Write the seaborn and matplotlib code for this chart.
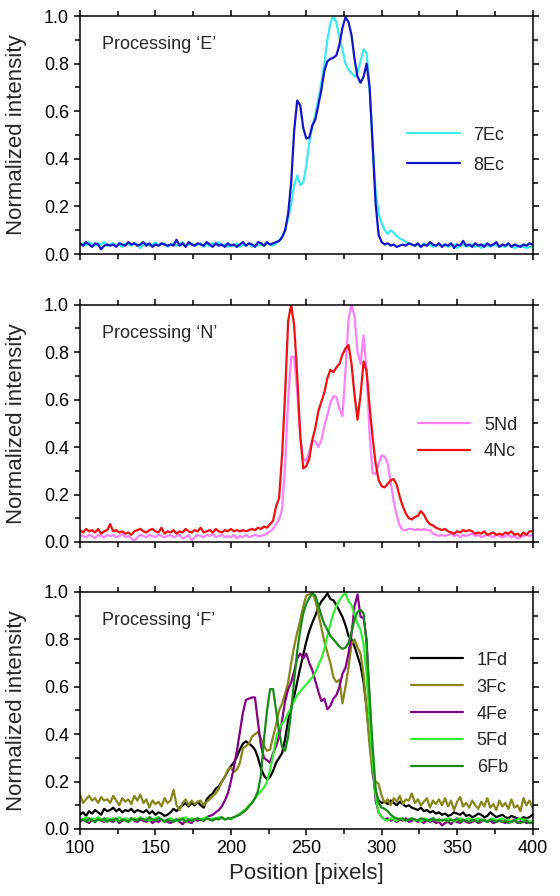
import numpy as np
import pandas as pd
import matplotlib
matplotlib.use("Agg")
import matplotlib.pyplot as plt
from matplotlib.ticker import MultipleLocator
import seaborn as sns

# positions (pixels), one sample every 2 px
position = np.arange(100, 401, 2)

# --- Processing 'E' ---
e_7Ec = [
    0.04, 0.045, 0.035, 0.05, 0.04, 0.035, 0.045, 0.04, 0.05, 0.035,
    0.04, 0.045, 0.035, 0.04, 0.03, 0.045, 0.04, 0.035, 0.045, 0.04,
    0.025, 0.04, 0.045, 0.035, 0.04, 0.05, 0.035, 0.04, 0.045, 0.03,
    0.04, 0.045, 0.035, 0.04, 0.05, 0.035, 0.04, 0.045, 0.035, 0.04,
    0.045, 0.03, 0.04, 0.035, 0.045, 0.04, 0.05, 0.035, 0.04, 0.03,
    0.04, 0.035, 0.045, 0.03, 0.04, 0.035, 0.045, 0.03, 0.04, 0.035,
    0.04, 0.035, 0.045, 0.04, 0.035, 0.045, 0.055, 0.075, 0.1, 0.15,
    0.21, 0.29, 0.33, 0.29, 0.30, 0.37, 0.47, 0.535, 0.585, 0.65,
    0.72, 0.80, 0.90, 0.97, 1.0, 0.97, 0.91, 0.86, 0.80, 0.775,
    0.76, 0.745, 0.765, 0.81, 0.86, 0.845, 0.70, 0.46, 0.26, 0.17,
    0.13, 0.1, 0.085, 0.1, 0.09, 0.075, 0.065, 0.06, 0.05, 0.045,
    0.04, 0.035, 0.04, 0.03, 0.045, 0.035, 0.04, 0.03, 0.035, 0.04,
    0.035, 0.04, 0.03, 0.035, 0.04, 0.025, 0.035, 0.04, 0.03, 0.035,
    0.04, 0.03, 0.035, 0.025, 0.04, 0.035, 0.03, 0.04, 0.035, 0.03,
    0.035, 0.03, 0.04, 0.035, 0.025, 0.03, 0.035, 0.03, 0.025, 0.03,
    0.03,
]
e_8Ec = [
    0.045, 0.035, 0.05, 0.04, 0.03, 0.045, 0.04, 0.02, 0.035, 0.04,
    0.035, 0.04, 0.03, 0.045, 0.04, 0.035, 0.05, 0.04, 0.045, 0.035,
    0.04, 0.05, 0.035, 0.045, 0.03, 0.04, 0.035, 0.045, 0.04, 0.035,
    0.04, 0.035, 0.06, 0.035, 0.045, 0.03, 0.05, 0.04, 0.035, 0.045,
    0.04, 0.035, 0.05, 0.04, 0.03, 0.045, 0.035, 0.04, 0.03, 0.045,
    0.035, 0.04, 0.03, 0.04, 0.05, 0.035, 0.045, 0.04, 0.03, 0.05,
    0.045, 0.035, 0.05, 0.04, 0.045, 0.05, 0.055, 0.07, 0.1, 0.17,
    0.30, 0.52, 0.645, 0.625, 0.53, 0.485, 0.49, 0.54, 0.565, 0.625,
    0.69, 0.77, 0.81, 0.82, 0.825, 0.835, 0.88, 0.95, 0.995, 0.975,
    0.92, 0.82, 0.745, 0.72, 0.745, 0.80, 0.70, 0.46, 0.21, 0.08,
    0.05, 0.04, 0.045, 0.035, 0.04, 0.03, 0.035, 0.04, 0.035, 0.045,
    0.04, 0.035, 0.045, 0.03, 0.04, 0.035, 0.05, 0.04, 0.035, 0.045,
    0.03, 0.04, 0.035, 0.045, 0.025, 0.04, 0.035, 0.055, 0.035, 0.04,
    0.03, 0.045, 0.035, 0.04, 0.03, 0.045, 0.035, 0.04, 0.05, 0.03,
    0.04, 0.035, 0.045, 0.03, 0.04, 0.035, 0.03, 0.04, 0.035, 0.045,
    0.04,
]

# --- Processing 'N' ---
n_5Nd = [
    0.03, 0.025, 0.02, 0.03, 0.025, 0.015, 0.03, 0.025, 0.02, 0.03,
    0.025, 0.03, 0.02, 0.025, 0.035, 0.02, 0.025, 0.015, 0.005, 0.02,
    0.03, 0.025, 0.02, 0.03, 0.025, 0.02, 0.03, 0.025, 0.02, 0.025,
    0.03, 0.02, 0.025, 0.03, 0.015, 0.02, 0.03, 0.005, 0.02, 0.03,
    0.025, 0.02, 0.03, 0.025, 0.035, 0.02, 0.025, 0.03, 0.02, 0.025,
    0.02, 0.03, 0.015, 0.025, 0.02, 0.03, 0.02, 0.025, 0.03, 0.025,
    0.025, 0.03, 0.035, 0.045, 0.055, 0.075, 0.095, 0.14, 0.33, 0.6,
    0.78, 0.78, 0.63, 0.44, 0.35, 0.34, 0.38, 0.425, 0.425, 0.40,
    0.43, 0.49, 0.535, 0.585, 0.615, 0.61, 0.56, 0.53, 0.72, 0.94,
    1.0, 0.95, 0.80, 0.75, 0.87, 0.72, 0.45, 0.29, 0.285, 0.33,
    0.365, 0.36, 0.33, 0.25, 0.17, 0.11, 0.07, 0.05, 0.05, 0.055,
    0.055, 0.05, 0.055, 0.05, 0.055, 0.05, 0.05, 0.035, 0.03, 0.025,
    0.03, 0.025, 0.03, 0.035, 0.025, 0.03, 0.02, 0.03, 0.025, 0.03,
    0.035, 0.025, 0.03, 0.02, 0.025, 0.03, 0.025, 0.02, 0.03, 0.025,
    0.02, 0.025, 0.03, 0.02, 0.025, 0.015, 0.02, 0.025, 0.03, 0.025,
    0.03,
]
n_4Nc = [
    0.05, 0.04, 0.055, 0.045, 0.05, 0.04, 0.055, 0.035, 0.045, 0.05,
    0.075, 0.045, 0.05, 0.04, 0.045, 0.035, 0.04, 0.03, 0.045, 0.05,
    0.055, 0.045, 0.04, 0.05, 0.055, 0.045, 0.04, 0.06, 0.035, 0.045,
    0.04, 0.05, 0.035, 0.045, 0.04, 0.055, 0.045, 0.04, 0.05, 0.045,
    0.06, 0.04, 0.045, 0.05, 0.04, 0.055, 0.045, 0.04, 0.05, 0.045,
    0.055, 0.045, 0.05, 0.045, 0.05, 0.045, 0.05, 0.055, 0.05, 0.06,
    0.055, 0.065, 0.06, 0.075, 0.09, 0.15, 0.185, 0.37, 0.63, 0.93,
    1.0, 0.91, 0.70, 0.45, 0.31, 0.32, 0.35, 0.43, 0.48, 0.55,
    0.59, 0.63, 0.69, 0.725, 0.715, 0.735, 0.75, 0.79, 0.815, 0.83,
    0.75, 0.62, 0.515, 0.62, 0.76, 0.72, 0.57, 0.44, 0.33, 0.26,
    0.235, 0.23, 0.245, 0.26, 0.265, 0.24, 0.19, 0.15, 0.12, 0.1,
    0.095, 0.105, 0.11, 0.13, 0.115, 0.09, 0.075, 0.07, 0.06, 0.055,
    0.05, 0.055, 0.045, 0.04, 0.035, 0.045, 0.04, 0.05, 0.045, 0.05,
    0.045, 0.035, 0.04, 0.035, 0.045, 0.03, 0.035, 0.04, 0.03, 0.035,
    0.03, 0.04, 0.035, 0.045, 0.03, 0.035, 0.025, 0.04, 0.03, 0.045,
    0.045,
]

# --- Processing 'F' ---
f_1Fd = [
    0.06, 0.07, 0.055, 0.075, 0.065, 0.08, 0.07, 0.06, 0.085, 0.075,
    0.08, 0.09, 0.075, 0.085, 0.07, 0.08, 0.075, 0.085, 0.07, 0.08,
    0.075, 0.07, 0.08, 0.065, 0.075, 0.06, 0.07, 0.065, 0.055, 0.06,
    0.07, 0.085, 0.075, 0.09, 0.1, 0.11, 0.095, 0.11, 0.1, 0.115,
    0.1, 0.09, 0.125, 0.14, 0.15, 0.17, 0.18, 0.2, 0.22, 0.245,
    0.265, 0.28, 0.305, 0.335, 0.36, 0.37, 0.36, 0.35, 0.335, 0.30,
    0.255, 0.225, 0.21, 0.22, 0.245, 0.28, 0.30, 0.32, 0.38, 0.46,
    0.51, 0.56, 0.62, 0.68, 0.735, 0.79, 0.835, 0.87, 0.90, 0.935,
    0.96, 0.975, 0.995, 0.97, 0.965, 0.945, 0.92, 0.895, 0.86, 0.815,
    0.80, 0.77, 0.73, 0.69, 0.62, 0.51, 0.38, 0.25, 0.15, 0.12,
    0.11, 0.115, 0.105, 0.12, 0.11, 0.1, 0.115, 0.105, 0.095, 0.1,
    0.09, 0.085, 0.08, 0.09, 0.075, 0.08, 0.07, 0.075, 0.065, 0.07,
    0.06, 0.065, 0.055, 0.06, 0.07, 0.065, 0.06, 0.07, 0.055, 0.06,
    0.05, 0.055, 0.065, 0.06, 0.05, 0.055, 0.07, 0.06, 0.05, 0.055,
    0.06, 0.05, 0.045, 0.055, 0.05, 0.045, 0.04, 0.05, 0.045, 0.05,
    0.06,
]
f_3Fc = [
    0.145, 0.11, 0.125, 0.14, 0.12, 0.13, 0.11, 0.135, 0.12, 0.125,
    0.11, 0.14, 0.12, 0.1, 0.13, 0.115, 0.125, 0.105, 0.14, 0.12,
    0.145, 0.11, 0.125, 0.09, 0.12, 0.105, 0.115, 0.095, 0.13, 0.11,
    0.12, 0.165, 0.1, 0.08, 0.11, 0.125, 0.1, 0.12, 0.105, 0.115,
    0.12, 0.1, 0.115, 0.125, 0.14, 0.15, 0.17, 0.2, 0.22, 0.25,
    0.26, 0.24, 0.25, 0.28, 0.34, 0.35, 0.36, 0.39, 0.40, 0.41,
    0.38, 0.35, 0.33, 0.335, 0.39, 0.44, 0.50, 0.53, 0.57, 0.62,
    0.70, 0.77, 0.83, 0.88, 0.94, 0.985, 0.99, 0.995, 0.965, 0.91,
    0.85, 0.79, 0.745, 0.70, 0.64, 0.62, 0.63, 0.53, 0.60, 0.68,
    0.78, 0.80, 0.765, 0.74, 0.65, 0.50, 0.35, 0.23, 0.2, 0.19,
    0.14, 0.11, 0.125, 0.1, 0.13, 0.115, 0.14, 0.105, 0.125, 0.12,
    0.15, 0.11, 0.125, 0.1, 0.115, 0.13, 0.09, 0.12, 0.105, 0.125,
    0.1, 0.13, 0.095, 0.12, 0.08, 0.115, 0.135, 0.095, 0.11, 0.09,
    0.12, 0.1, 0.085, 0.115, 0.095, 0.13, 0.09, 0.105, 0.08, 0.12,
    0.095, 0.11, 0.085, 0.125, 0.09, 0.1, 0.075, 0.13, 0.1, 0.12,
    0.09,
]
f_4Fe = [
    0.03, 0.04, 0.035, 0.025, 0.04, 0.03, 0.045, 0.035, 0.03, 0.04,
    0.035, 0.03, 0.04, 0.025, 0.035, 0.04, 0.03, 0.045, 0.035, 0.03,
    0.04, 0.035, 0.03, 0.04, 0.025, 0.035, 0.03, 0.04, 0.035, 0.03,
    0.025, 0.035, 0.04, 0.03, 0.02, 0.035, 0.03, 0.025, 0.04, 0.035,
    0.04, 0.035, 0.05, 0.055, 0.06, 0.07, 0.08, 0.095, 0.12, 0.15,
    0.20, 0.26, 0.33, 0.41, 0.49, 0.545, 0.55, 0.555, 0.555, 0.45,
    0.35, 0.30, 0.29, 0.28, 0.32, 0.35, 0.39, 0.46, 0.54, 0.59,
    0.62, 0.665, 0.72, 0.74, 0.72, 0.74, 0.70, 0.67, 0.625, 0.58,
    0.54, 0.55, 0.505, 0.52, 0.55, 0.565, 0.60, 0.655, 0.68, 0.74,
    0.82, 0.94, 0.99, 0.895, 0.89, 0.80, 0.53, 0.27, 0.12, 0.07,
    0.05, 0.04, 0.045, 0.035, 0.04, 0.03, 0.04, 0.035, 0.045, 0.03,
    0.035, 0.04, 0.03, 0.035, 0.025, 0.04, 0.03, 0.035, 0.025, 0.03,
    0.015, 0.025, 0.03, 0.02, 0.035, 0.03, 0.025, 0.035, 0.03, 0.025,
    0.03, 0.035, 0.025, 0.03, 0.04, 0.03, 0.035, 0.025, 0.03, 0.035,
    0.03, 0.025, 0.035, 0.03, 0.04, 0.025, 0.03, 0.035, 0.025, 0.03,
    0.03,
]
f_5Fd = [
    0.045, 0.04, 0.05, 0.035, 0.045, 0.04, 0.05, 0.04, 0.035, 0.045,
    0.04, 0.045, 0.035, 0.05, 0.04, 0.045, 0.04, 0.035, 0.045, 0.04,
    0.05, 0.04, 0.045, 0.035, 0.04, 0.045, 0.05, 0.04, 0.035, 0.04,
    0.045, 0.04, 0.035, 0.045, 0.04, 0.05, 0.04, 0.045, 0.04, 0.045,
    0.04, 0.045, 0.05, 0.04, 0.045, 0.04, 0.05, 0.045, 0.04, 0.045,
    0.04, 0.05, 0.055, 0.065, 0.075, 0.085, 0.1, 0.11, 0.13, 0.145,
    0.16, 0.175, 0.2, 0.25, 0.31, 0.385, 0.42, 0.445, 0.46, 0.49,
    0.51, 0.54, 0.565, 0.58, 0.595, 0.61, 0.625, 0.64, 0.66, 0.69,
    0.72, 0.76, 0.815, 0.865, 0.91, 0.94, 0.965, 0.985, 0.995, 0.96,
    0.945, 0.905, 0.865, 0.84, 0.78, 0.65, 0.45, 0.28, 0.14, 0.07,
    0.05, 0.04, 0.035, 0.045, 0.04, 0.035, 0.045, 0.04, 0.035, 0.04,
    0.045, 0.035, 0.04, 0.03, 0.045, 0.04, 0.035, 0.045, 0.04, 0.035,
    0.04, 0.035, 0.045, 0.04, 0.03, 0.04, 0.045, 0.035, 0.04, 0.045,
    0.035, 0.04, 0.045, 0.035, 0.04, 0.03, 0.04, 0.045, 0.035, 0.04,
    0.045, 0.035, 0.04, 0.03, 0.035, 0.04, 0.045, 0.035, 0.04, 0.03,
    0.03,
]
f_6Fb = [
    0.035, 0.04, 0.03, 0.045, 0.035, 0.03, 0.04, 0.035, 0.045, 0.03,
    0.04, 0.035, 0.045, 0.03, 0.04, 0.035, 0.03, 0.045, 0.04, 0.035,
    0.045, 0.04, 0.035, 0.05, 0.04, 0.035, 0.045, 0.04, 0.03, 0.04,
    0.035, 0.03, 0.04, 0.035, 0.045, 0.03, 0.04, 0.035, 0.04, 0.045,
    0.04, 0.035, 0.045, 0.04, 0.035, 0.045, 0.04, 0.05, 0.04, 0.045,
    0.045, 0.05, 0.055, 0.06, 0.07, 0.08, 0.095, 0.11, 0.13, 0.16,
    0.23, 0.38, 0.50, 0.59, 0.59, 0.50, 0.41, 0.345, 0.33, 0.39,
    0.50, 0.63, 0.75, 0.84, 0.91, 0.95, 0.975, 0.995, 0.985, 0.945,
    0.90, 0.865, 0.84, 0.815, 0.80, 0.785, 0.77, 0.76, 0.765, 0.785,
    0.83, 0.885, 0.915, 0.925, 0.91, 0.78, 0.56, 0.35, 0.17, 0.11,
    0.09, 0.085, 0.075, 0.06, 0.05, 0.045, 0.04, 0.045, 0.035, 0.04,
    0.045, 0.04, 0.035, 0.045, 0.04, 0.035, 0.04, 0.045, 0.035, 0.04,
    0.035, 0.04, 0.03, 0.04, 0.035, 0.045, 0.03, 0.04, 0.035, 0.03,
    0.04, 0.035, 0.03, 0.04, 0.035, 0.03, 0.04, 0.035, 0.03, 0.035,
    0.03, 0.035, 0.025, 0.03, 0.035, 0.03, 0.025, 0.03, 0.035, 0.025,
    0.025,
]

panels = [
    ("Processing \u2018E\u2019",
     [("7Ec", e_7Ec, "#3DEAF0"), ("8Ec", e_8Ec, "#1414C8")],
     (0.723, 0.437), 0.72),
    ("Processing \u2018N\u2019",
     [("5Nd", n_5Nd, "#FF80FF"), ("4Nc", n_4Nc, "#F01010")],
     (0.747, 0.436), 0.55),
    ("Processing \u2018F\u2019",
     [("1Fd", f_1Fd, "#000000"), ("3Fc", f_3Fc, "#86861A"),
      ("4Fe", f_4Fe, "#860086"), ("5Fd", f_5Fd, "#33EE33"),
      ("6Fb", f_6Fb, "#178A17")],
     (0.731, 0.485), 0.55),
]

sns.set_style("ticks")
plt.rcParams["font.family"] = ["Liberation Sans", "DejaVu Sans"]

fig = plt.figure(figsize=(5.6, 8.96), dpi=100)
bottoms = [0.7165, 0.3951, 0.0748]
heights = [0.2656, 0.2650, 0.2645]

for i, (title, series, anchor, lspace) in enumerate(panels):
    ax = fig.add_axes([0.1429, bottoms[i], 0.808, heights[i]])
    frames = []
    for name, vals, col in series:
        frames.append(pd.DataFrame({"pos": position, "val": vals, "sample": name}))
    df = pd.concat(frames, ignore_index=True)
    names = [s[0] for s in series]
    palette = {s[0]: s[2] for s in series}
    sns.lineplot(data=df, x="pos", y="val", hue="sample", hue_order=names,
                 palette=palette, linewidth=1.6, ax=ax, errorbar=None)

    ax.set_xlim(100, 400)
    ax.set_ylim(0, 1.0)
    ax.xaxis.set_major_locator(MultipleLocator(50))
    ax.xaxis.set_minor_locator(MultipleLocator(25))
    ax.yaxis.set_major_locator(MultipleLocator(0.2))
    ax.yaxis.set_minor_locator(MultipleLocator(0.1))
    ax.tick_params(which="both", direction="out", top=True, right=True,
                   width=1.1, labelsize=13, colors="black")
    ax.tick_params(which="major", length=4.5)
    ax.tick_params(which="minor", length=3.5)
    for sp in ax.spines.values():
        sp.set_visible(True)
        sp.set_linewidth(1.1)
        sp.set_color("black")
    ax.set_ylabel("Normalized intensity", fontsize=16)
    ax.yaxis.set_label_coords(-0.118, 0.5)
    if i < 2:
        ax.set_xlabel("")
        ax.tick_params(labelbottom=False)
    else:
        ax.set_xlabel("Position [pixels]", fontsize=16, labelpad=4)

    ax.text(0.048, 0.88, title, transform=ax.transAxes, fontsize=13,
            va="center", ha="left")

    leg = ax.legend(loc="center left", bbox_to_anchor=anchor, frameon=False,
                    fontsize=13, handlelength=2.9, handletextpad=0.75,
                    labelspacing=lspace, borderpad=0, borderaxespad=0)
    for ln in leg.get_lines():
        ln.set_linewidth(1.6)

fig.savefig("out.png", dpi=100)
